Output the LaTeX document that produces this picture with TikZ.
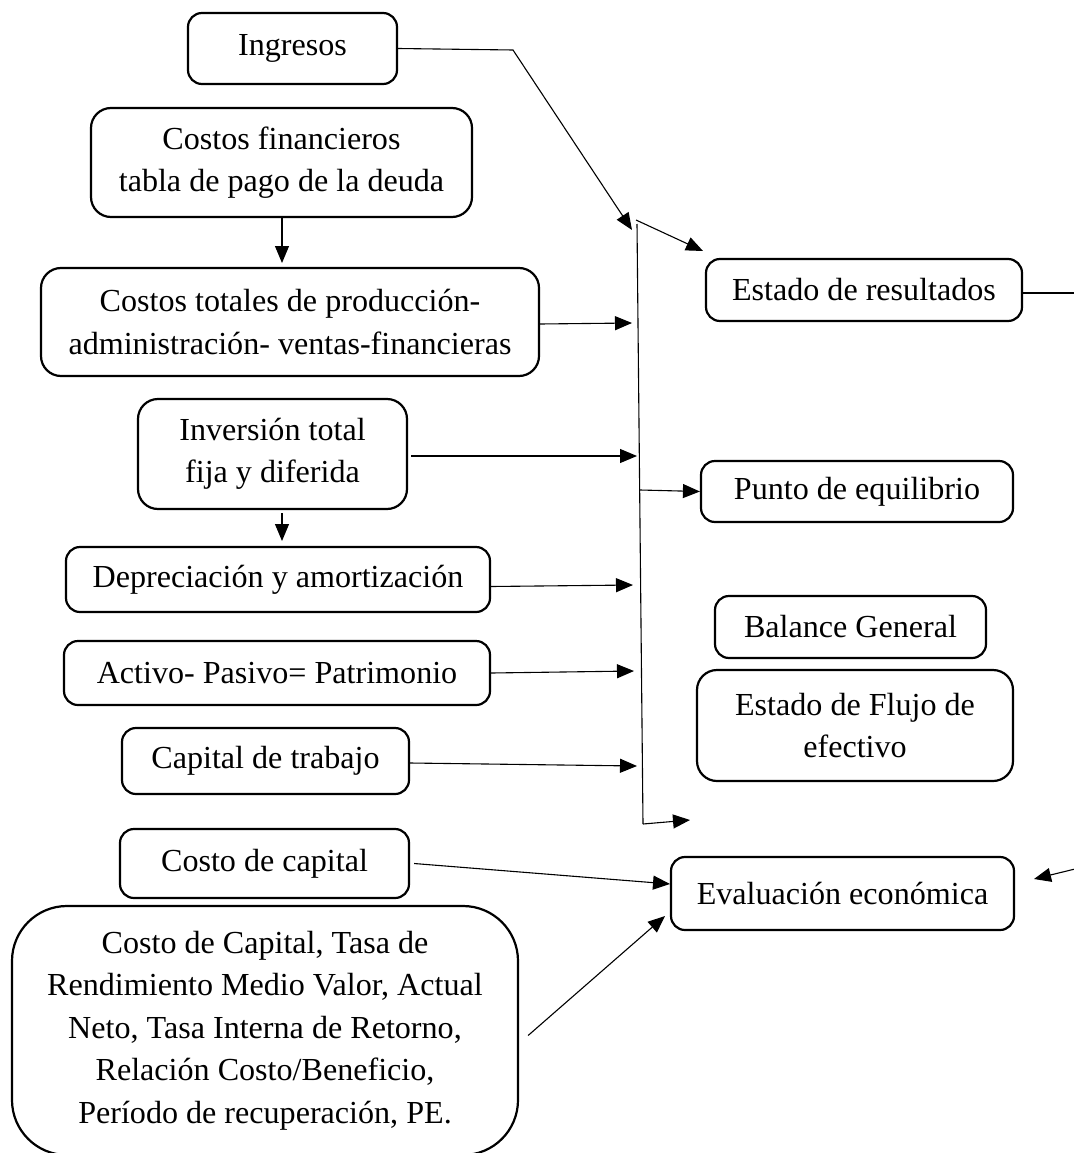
\documentclass[tikz,border=0pt]{standalone}
\usepackage{fontspec}
\setmainfont{Liberation Serif}
\usetikzlibrary{arrows.meta}
\begin{document}
\begin{tikzpicture}[x=1pt,y=-1pt,
  box/.style={draw, line width=2.2pt, rounded corners=14pt, align=center, inner sep=0pt,
              font=\fontsize{32.1}{42.5}\selectfont},
  tallbox/.style={box, rounded corners=20pt},
  conn/.style={line width=1.1pt, -{Triangle[length=17pt,width=14pt]}},
  plainline/.style={line width=1.1pt}]
\useasboundingbox (0,0) rectangle (1073,1153);

% left column
\node[box, minimum width=209pt, minimum height=71pt] (ing) at (292.5,48.5) {Ingresos};
\node[tallbox, minimum width=381pt, minimum height=109pt] (fin) at (281.5,162.5)
  {Costos financieros\\tabla de pago de la deuda};
\node[tallbox, minimum width=498pt, minimum height=108pt] (tot) at (290,322)
  {Costos totales de producción-\\administración- ventas-financieras};
\node[tallbox, minimum width=269pt, minimum height=110pt] (inv) at (272.5,454)
  {Inversión total\\fija y diferida};
\node[box, minimum width=424pt, minimum height=65pt] (dep) at (278,579.5) {Depreciación y amortización};
\node[box, minimum width=426pt, minimum height=64pt] (act) at (277,673) {Activo- Pasivo= Patrimonio};
\node[box, minimum width=287pt, minimum height=66pt] (cap) at (265.5,761) {Capital de trabajo};
\node[box, minimum width=289pt, minimum height=69pt] (cc) at (264.5,863.5) {Costo de capital};
\node[box, rounded corners=55pt, minimum width=506pt, minimum height=249pt] (big) at (265,1030.5)
  {Costo de Capital, Tasa de\\Rendimiento Medio Valor, Actual\\Neto, Tasa Interna de Retorno,\\Relación Costo/Beneficio,\\Período de recuperación, PE.};

% right column
\node[box, minimum width=316pt, minimum height=62pt] (res) at (864,290) {Estado de resultados};
\node[box, minimum width=312pt, minimum height=61pt] (equ) at (857,491.5) {Punto de equilibrio};
\node[box, minimum width=271pt, minimum height=62pt] (bal) at (850.5,627) {Balance General};
\node[tallbox, minimum width=316pt, minimum height=111pt] (flu) at (855,725.5)
  {Estado de Flujo de\\efectivo};
\node[box, minimum width=343pt, minimum height=73pt] (eva) at (842.5,893.5) {Evaluación económica};

% coordinates
\coordinate (k1) at (513,50);
\coordinate (t1) at (632,230);
\coordinate (vt) at (637,224);
\coordinate (vb) at (643,824);
\coordinate (v1) at (636,220);
\coordinate (t2) at (703,251);
\coordinate (t3) at (632,323);
\coordinate (t4) at (637,456);
\coordinate (v2) at (640,490);
\coordinate (t5) at (633,585);
\coordinate (t6) at (634,671);
\coordinate (t7) at (637,766);
\coordinate (v3) at (643,824);
\coordinate (t8) at (690,820);
\coordinate (t9) at (670,884);
\coordinate (t10) at (665,916);
\coordinate (r1) at (1075,293);
\coordinate (r2) at (1075,869);
\coordinate (t11) at (1034,879);
\coordinate (a1) at (282,217);
\coordinate (a2) at (282,263);
\coordinate (a3) at (282,513);
\coordinate (a4) at (282,541);

% connectors
\draw[plainline] (vt) -- (vb);
\draw[conn] (ing.east) -- (k1) -- (t1);
\draw[conn] (v1) -- (t2);
\draw[conn] (a1) -- (a2);
\draw[conn] ([yshift=-2pt]tot.east) -- (t3);
\draw[plainline] (res.east |- r1) -- (r1);
\draw[conn] ([xshift=3pt,yshift=-2pt]inv.east) -- (t4);
\draw[conn] (v2) -- (equ.west);
\draw[conn] (a3) -- (a4);
\draw[conn] ([yshift=-7pt]dep.east) -- (t5);
\draw[conn] (act.east) -- (t6);
\draw[conn] ([yshift=-2pt]cap.east) -- (t7);
\draw[conn] (v3) -- (t8);
\draw[conn] ([xshift=4pt]cc.east) -- (t9);
\draw[conn] ([xshift=9pt,yshift=-5pt]big.east) -- (t10);
\draw[conn] (r2) -- (t11);
\end{tikzpicture}
\end{document}
